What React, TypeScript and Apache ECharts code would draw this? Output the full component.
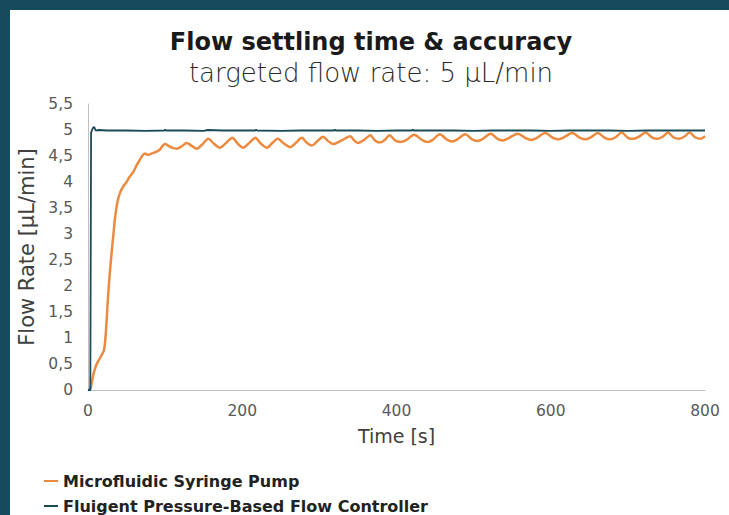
import React, { useEffect, useRef } from "react";
import * as echarts from "echarts";

const titleText = "Flow settling time & accuracy";
const subtitleText = "targeted flow rate: 5 µL/min";
const xAxisName = "Time [s]";
const yAxisName = "Flow Rate [µL/min]";
const seriesNames = ["Microfluidic Syringe Pump", "Fluigent Pressure-Based Flow Controller"];

// [time s, flow µL/min]
const syringePump: [number, number][] = [
  [0, 0], [3, 0.02], [7, 0.3], [10, 0.45], [13, 0.55], [17, 0.65], [21, 0.78],
  [24, 1.3], [26, 1.8], [28, 2.2], [31, 2.7], [33, 3.0], [35, 3.3], [38, 3.6],
  [41, 3.77], [45, 3.9], [50, 4.0], [54, 4.1], [59, 4.2], [63, 4.32], [67, 4.42],
  [70, 4.5], [74, 4.55], [78, 4.52], [83, 4.55], [88, 4.58], [93, 4.62], [97, 4.7],
  [100, 4.73], [104, 4.7], [109, 4.66], [115, 4.64], [121, 4.68], [128, 4.75],
  [134, 4.7], [141, 4.64], [148, 4.72], [156, 4.83], [163, 4.74], [171, 4.66],
  [179, 4.75], [187, 4.85], [194, 4.74], [201, 4.66], [209, 4.75], [217, 4.85],
  [224, 4.74], [232, 4.66], [239, 4.75], [246, 4.83], [254, 4.74], [262, 4.67],
  [270, 4.76], [277, 4.85], [284, 4.75], [290, 4.7], [297, 4.78], [305, 4.87],
  [311, 4.79], [318, 4.73], [329, 4.8], [340, 4.88], [345, 4.8], [350, 4.75],
  [359, 4.82], [366, 4.9], [372, 4.8], [378, 4.76], [384, 4.8], [391, 4.9],
  [398, 4.8], [405, 4.77], [412, 4.8], [423, 4.91], [433, 4.81], [440, 4.77],
  [447, 4.81], [456, 4.92], [465, 4.82], [472, 4.78], [479, 4.82], [489, 4.92],
  [498, 4.82], [505, 4.79], [512, 4.83], [522, 4.93], [531, 4.83], [538, 4.8],
  [545, 4.84], [557, 4.93], [568, 4.84], [575, 4.81], [582, 4.85], [593, 4.94],
  [603, 4.85], [610, 4.82], [617, 4.86], [628, 4.94], [638, 4.85], [645, 4.82],
  [652, 4.86], [661, 4.94], [670, 4.85], [677, 4.82], [684, 4.86], [692, 4.95],
  [700, 4.85], [707, 4.83], [714, 4.87], [723, 4.95], [731, 4.86], [738, 4.83],
  [745, 4.87], [752, 4.95], [759, 4.86], [766, 4.83], [773, 4.87], [780, 4.95],
  [787, 4.86], [794, 4.83], [800, 4.88],
];

const flowController: [number, number][] = [
  [0, 0], [3, 0], [4, 4.95], [6, 5.03], [8, 5.06], [10, 4.99], [14, 5.0],
  [25, 4.99], [50, 4.99], [75, 4.985], [99, 4.99], [100, 5.01], [101, 4.99],
  [125, 4.99], [150, 4.985], [155, 5.0], [175, 4.99], [200, 4.99], [217, 4.99],
  [218, 5.01], [219, 4.99], [250, 4.985], [275, 4.99], [300, 4.99], [319, 4.99],
  [320, 5.01], [321, 4.99], [350, 4.99], [375, 4.985], [400, 4.99], [420, 4.99],
  [421, 5.01], [422, 4.99], [450, 4.99], [475, 4.99], [500, 4.985], [525, 4.99],
  [550, 4.99], [575, 4.99], [600, 4.985], [625, 4.99], [650, 4.99], [675, 4.99],
  [700, 4.985], [725, 4.99], [750, 4.99], [775, 4.99], [800, 4.99],
];

const xMin = 0;
const xMax = 800;
const xInterval = 200;
const yMin = 0;
const yMax = 5.5;
const yInterval = 0.5;

const FONT = "'DejaVu Sans', 'Open Sans', sans-serif";

const legendStyle = {
  orient: "horizontal",
  left: 39,
  itemWidth: 14,
  itemHeight: 2,
  icon: "rect",
  textStyle: { fontFamily: FONT, fontSize: 16, fontWeight: 700, color: "#222222" },
};

export default function App() {
  const ref = useRef<HTMLDivElement>(null);
  useEffect(() => {
    document.body.style.margin = "0";
    if (!ref.current) return;
    const chart = echarts.init(ref.current, undefined, { renderer: "svg" });
    chart.setOption({
      animation: false,
      backgroundColor: "#ffffff",
      textStyle: { fontFamily: FONT },
      graphic: [
        { type: "rect", left: 0, top: 0, shape: { width: 729, height: 10 }, style: { fill: "#154b5c" }, z: 10 },
        { type: "rect", left: 0, top: 0, shape: { width: 10, height: 515 }, style: { fill: "#154b5c" }, z: 10 },
        {
          type: "text", x: 371, y: 42,
          style: { text: titleText, fontFamily: FONT, fontSize: 24, fontWeight: 700, fill: "#1a1a1a", textAlign: "center", textVerticalAlign: "middle" },
        },
        {
          type: "text", x: 371, y: 73,
          style: { text: subtitleText, fontFamily: FONT, fontSize: 26, fontWeight: 300, fill: "#2a2a2a", textAlign: "center", textVerticalAlign: "middle" },
        },
      ],
      legend: [
        { ...legendStyle, top: 468, data: [seriesNames[0]] },
        { ...legendStyle, top: 493, data: [seriesNames[1]] },
      ],
      grid: { left: 88, right: 24, top: 104, bottom: 125 },
      xAxis: {
        type: "value",
        min: xMin,
        max: xMax,
        interval: xInterval,
        name: xAxisName,
        nameLocation: "middle",
        nameGap: 36,
        nameTextStyle: { fontFamily: FONT, fontSize: 19, color: "#404040" },
        axisLine: { show: true, lineStyle: { color: "#bfbfbf", width: 1 } },
        axisTick: { show: false },
        splitLine: { show: false },
        axisLabel: { fontFamily: FONT, fontSize: 15.5, color: "#595959", margin: 13 },
      },
      yAxis: {
        type: "value",
        min: yMin,
        max: yMax,
        interval: yInterval,
        name: yAxisName,
        nameLocation: "middle",
        nameGap: 32,
        nameTextStyle: { fontFamily: FONT, fontSize: 21, color: "#404040" },
        axisLine: { show: true, lineStyle: { color: "#bfbfbf", width: 1 } },
        axisTick: { show: false },
        splitLine: { show: false },
        axisLabel: {
          fontFamily: FONT, fontSize: 15.5, color: "#595959", margin: 15,
          formatter: (v: number) => String(v).replace(".", ","),
        },
      },
      series: [
        {
          name: seriesNames[0],
          type: "line",
          data: syringePump,
          showSymbol: false,
          smooth: 0.3,
          color: "#ec8a3f",
          lineStyle: { width: 2.5, color: "#ec8a3f" },
          z: 2,
        },
        {
          name: seriesNames[1],
          type: "line",
          data: flowController,
          showSymbol: false,
          color: "#1b4a57",
          lineStyle: { width: 1.8, color: "#1b4a57" },
          z: 3,
        },
      ],
    });
    return () => chart.dispose();
  }, []);
  return <div ref={ref} style={{ width: 729, height: 515 }} />;
}
